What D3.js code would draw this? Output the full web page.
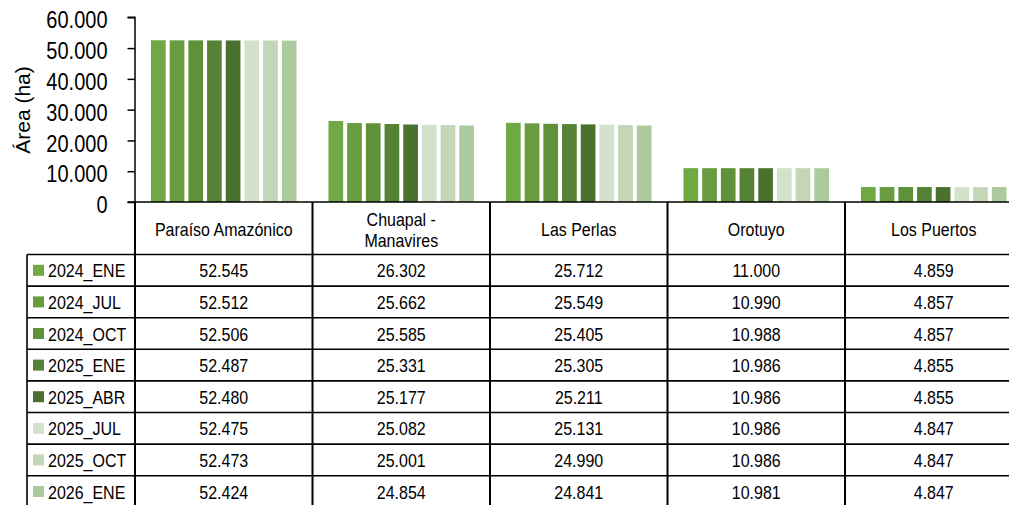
<!DOCTYPE html>
<html>
<head>
<meta charset="utf-8">
<script src="https://cdn.jsdelivr.net/npm/d3@7"></script>
<style>
  body { margin: 0; background: #fff; }
  text { font-family: "Liberation Sans", Arial, sans-serif; fill: #000; }
</style>
</head>
<body>
<div id="chart"></div>
<script>
// ---- data ----
var categories = ["Paraíso Amazónico", "Chuapal - Manavires", "Las Perlas", "Orotuyo", "Los Puertos"];
var series = ["2024_ENE", "2024_JUL", "2024_OCT", "2025_ENE", "2025_ABR", "2025_JUL", "2025_OCT", "2026_ENE"];
var colors = ["#70a844", "#689c3e", "#5f9139", "#558235", "#4b712f", "#d4e2cb", "#c3d7b7", "#adca9e"];

var v2024_ENE = [52545, 26302, 25712, 11000, 4859];
var v2024_JUL = [52512, 25662, 25549, 10990, 4857];
var v2024_OCT = [52506, 25585, 25405, 10988, 4857];
var v2025_ENE = [52487, 25331, 25305, 10986, 4855];
var v2025_ABR = [52480, 25177, 25211, 10986, 4855];
var v2025_JUL = [52475, 25082, 25131, 10986, 4847];
var v2025_OCT = [52473, 25001, 24990, 10986, 4847];
var v2026_ENE = [52424, 24854, 24841, 10981, 4847];

var values = [v2024_ENE, v2024_JUL, v2024_OCT, v2025_ENE, v2025_ABR, v2025_JUL, v2025_OCT, v2026_ENE];
var yTicks = [0, 10000, 20000, 30000, 40000, 50000, 60000];

// ---- layout ----
var width = 1009, height = 505,
    axisX = 135, zeroY = 202, topY = 17.3,
    colW = 177.5,
    legendX = 27,
    tableTop = 254.5, rowH = 31.6,
    stretch = 1.18;   // the source text is drawn a bit taller than wide

var locale = d3.formatLocale({decimal: ",", thousands: ".", grouping: [3], currency: ["", ""]});
var fmt = locale.format(",d");

var svg = d3.select("#chart").append("svg")
    .attr("width", width)
    .attr("height", height);

// text helper, baseline at (x, y), stretched vertically
var addText = function (x, y, str, anchor, size) {
    return svg.append("text")
        .attr("transform", "translate(" + x + "," + y + ") scale(1," + stretch + ")")
        .attr("text-anchor", anchor)
        .style("font-size", size + "px")
        .text(str);
};

var x0 = d3.scaleBand()
    .domain(categories)
    .range([axisX, axisX + colW * categories.length]);

var x1 = d3.scaleBand()
    .domain(series)
    .range([0, colW])
    .paddingInner(0.214)
    .paddingOuter(0.855);

var y = d3.scaleLinear()
    .domain([0, 60000])
    .range([zeroY, topY]);

var rowY = d3.scaleBand()
    .domain(series)
    .range([tableTop, tableTop + rowH * series.length]);

// bars
var groups = svg.selectAll("g.cat")
    .data(categories)
    .enter().append("g")
    .attr("class", "cat")
    .attr("transform", function (c) { return "translate(" + x0(c) + ",0)"; });

groups.selectAll("rect")
    .data(function (c, ci) {
        return series.map(function (s, si) { return {s: s, si: si, v: values[si][ci]}; });
    })
    .enter().append("rect")
    .attr("x", function (d) { return x1(d.s); })
    .attr("y", function (d) { return y(d.v); })
    .attr("width", x1.bandwidth())
    .attr("height", function (d) { return zeroY - y(d.v); })
    .attr("fill", function (d) { return colors[d.si]; });

// y axis
var yAxis = d3.axisLeft(y)
    .tickValues(yTicks)
    .tickSize(7.5)
    .tickPadding(20)
    .tickFormat(fmt);

var gy = svg.append("g")
    .attr("transform", "translate(" + axisX + ",0)")
    .call(yAxis);
gy.select(".domain").attr("stroke", "#000").attr("stroke-width", 1.5)
    .attr("d", "M-7.5," + topY + "H0V" + zeroY);
gy.selectAll(".tick line").attr("stroke", "#000").attr("stroke-width", 1.5);
gy.selectAll(".tick text")
    .style("font-family", "'Liberation Sans', Arial, sans-serif")
    .style("font-size", "20px")
    .attr("transform", "scale(1,1.2)")
    .attr("dy", "0.44em");

svg.append("text")
    .attr("transform", "translate(30,110) rotate(-90)")
    .attr("text-anchor", "middle")
    .style("font-size", "21px")
    .text("Área (ha)");

// ---- data table ----
var tableBottom = tableTop + rowH * series.length;
var lines = svg.append("g").attr("stroke", "#000").attr("stroke-width", 1.6);

// header top line (same as category axis)
lines.append("line")
    .attr("x1", axisX - 7.5).attr("x2", width + 20)
    .attr("y1", zeroY).attr("y2", zeroY);

// vertical column lines
categories.concat(["end"]).forEach(function (c, i) {
    var xx = axisX + colW * i;
    lines.append("line")
        .attr("x1", xx).attr("x2", xx)
        .attr("y1", zeroY).attr("y2", tableBottom)
        .attr("stroke-width", 2);
});

// legend column left edge
lines.append("line")
    .attr("x1", legendX).attr("x2", legendX)
    .attr("y1", tableTop).attr("y2", tableBottom);

// row lines
series.forEach(function (s) {
    lines.append("line")
        .attr("x1", legendX).attr("x2", width + 20)
        .attr("y1", rowY(s)).attr("y2", rowY(s));
});

// header labels
categories.forEach(function (c) {
    var cx = x0(c) + colW / 2;
    var parts = c === "Chuapal - Manavires" ? ["Chuapal -", "Manavires"] : [c];
    parts.forEach(function (p, i) {
        addText(cx, 229 + 7 + (i - (parts.length - 1) / 2) * 21, p, "middle", 16);
    });
});

// legend keys + values
series.forEach(function (s, si) {
    var ry = rowY(s) + rowH / 2;
    svg.append("rect")
        .attr("x", 33).attr("y", ry - 5.5)
        .attr("width", 11).attr("height", 11)
        .attr("fill", colors[si]);
    addText(48, ry + 7, s, "start", 16);

    categories.forEach(function (c, ci) {
        addText(x0(c) + colW / 2, ry + 7, fmt(values[si][ci]), "middle", 16);
    });
});
</script>
</body>
</html>
